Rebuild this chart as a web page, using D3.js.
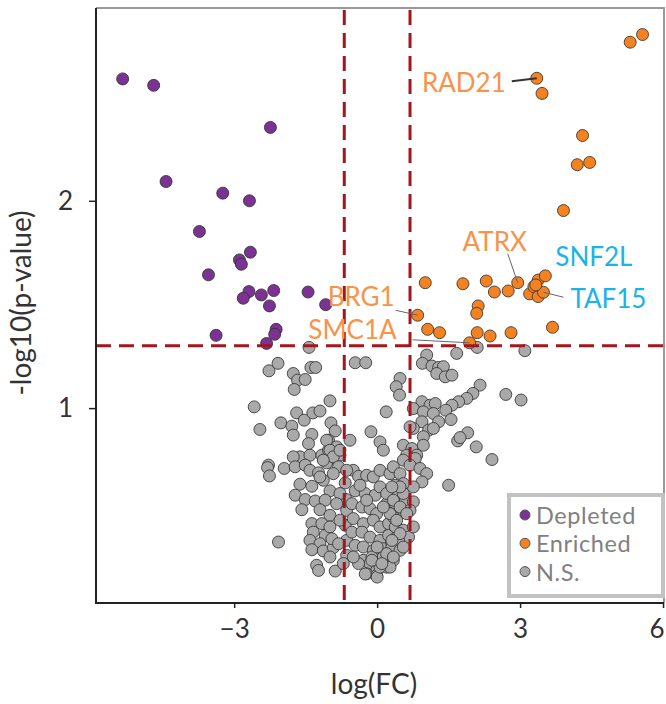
<!DOCTYPE html>
<html>
<head>
<meta charset="utf-8">
<script src="https://cdn.jsdelivr.net/npm/d3@7"></script>
<style>
  body { margin: 0; background: #fff; }
  svg { display: block; }
</style>
</head>
<body>
<svg id="chart"></svg>
<script>
// values: [log(FC), -log10(p)]
const depleted = [
  [-5.34, 2.588], [-4.69, 2.557], [-2.24, 2.354], [-4.43, 2.093], [-3.24, 2.037],
  [-2.68, 2.000], [-3.73, 1.852], [-2.66, 1.752], [-2.89, 1.715], [-2.85, 1.694],
  [-3.54, 1.643], [-2.69, 1.562], [-2.81, 1.530], [-2.43, 1.546], [-2.17, 1.567],
  [-2.26, 1.493], [-1.45, 1.560], [-1.08, 1.499], [-3.38, 1.351], [-2.12, 1.380],
  [-2.15, 1.356], [-2.32, 1.312]
];

const enriched = [
  [5.31, 2.765], [5.57, 2.802], [3.35, 2.591], [3.46, 2.518], [4.31, 2.315],
  [4.20, 2.174], [4.46, 2.185], [3.91, 1.953], [1.01, 1.605], [1.80, 1.600],
  [2.29, 1.613], [2.46, 1.560], [2.75, 1.565], [2.95, 1.605], [3.20, 1.551],
  [3.29, 1.586], [3.38, 1.618], [3.53, 1.638], [3.38, 1.538], [3.49, 1.559],
  [3.33, 1.594], [2.12, 1.493], [2.09, 1.457], [0.85, 1.448], [1.06, 1.380],
  [1.31, 1.364], [2.10, 1.364], [2.37, 1.348], [2.81, 1.364], [3.68, 1.390],
  [1.94, 1.315]
];

const notSignificant = [
  [-1.43, 1.293], [-2.27, 1.180], [-2.08, 1.216], [-1.76, 1.167], [-1.67, 1.135],
  [-1.51, 1.138], [-1.74, 1.090], [-1.39, 1.196], [-1.29, 1.196], [-0.46, 1.219],
  [-0.24, 1.219], [-2.58, 1.006], [-2.46, 0.897], [-2.02, 0.929], [-1.79, 0.913],
  [-1.69, 0.977], [-1.53, 0.942], [-1.35, 0.977], [-1.20, 0.986], [-0.99, 1.035],
  [-0.97, 0.929], [-0.88, 0.890], [-0.57, 0.845], [-1.37, 0.873], [-1.76, 0.870],
  [0.19, 0.982], [-0.13, 0.886], [0.06, 0.837], [0.13, 0.797], [-1.02, 0.845],
  [-0.85, 0.813], [-1.44, 0.829], [-1.62, 0.765], [-1.41, 0.773], [-1.16, 0.773],
  [-0.92, 0.757], [-1.02, 0.797], [-0.78, 0.773], [-1.76, 0.765], [-2.28, 0.725],
  [1.67, 1.264], [2.10, 1.293], [3.10, 1.277], [1.04, 1.256], [0.95, 1.216],
  [1.15, 1.203], [1.29, 1.196], [1.39, 1.200], [1.25, 1.167], [1.43, 1.151],
  [1.57, 1.159], [0.48, 1.143], [0.40, 1.103], [0.47, 1.063], [2.16, 1.111],
  [2.01, 1.071], [1.88, 1.047], [1.71, 1.031], [1.57, 1.014], [1.44, 0.990],
  [1.55, 0.945], [2.70, 1.066], [3.02, 1.039], [0.94, 1.031], [1.11, 1.014],
  [1.22, 1.022], [0.76, 0.998], [0.97, 0.982], [1.18, 0.974], [1.29, 0.934],
  [0.94, 0.934], [0.76, 0.902], [1.08, 0.894], [1.18, 0.902], [0.97, 0.862],
  [0.69, 0.910], [1.90, 0.881], [1.69, 0.842], [1.74, 0.858], [2.08, 0.813],
  [2.41, 0.752], [0.55, 0.821], [0.73, 0.805], [0.83, 0.773], [0.62, 0.773],
  [0.80, 0.757], [0.55, 0.749], [0.97, 0.821],
  [-2.30, 0.713], [-2.26, 0.673], [-1.95, 0.709], [-1.72, 0.717], [-1.51, 0.725],
  [-1.41, 0.700], [-1.23, 0.688], [-1.06, 0.736], [-1.62, 0.633], [-1.37, 0.623],
  [-1.13, 0.652], [-0.99, 0.601], [-1.72, 0.580], [-1.51, 0.559], [-1.30, 0.552],
  [-1.09, 0.556], [-1.58, 0.510], [-1.20, 0.510], [-0.99, 0.483], [-1.37, 0.443],
  [-1.16, 0.443], [-1.34, 0.402], [-1.09, 0.386], [-0.99, 0.427], [-1.41, 0.362],
  [-1.20, 0.346], [-1.37, 0.317], [-1.13, 0.311], [-0.92, 0.327], [-2.07, 0.354],
  [-1.27, 0.242], [-1.23, 0.217], [-0.88, 0.214], [-0.95, 0.370], [-0.99, 0.282],
  [-0.67, 0.639], [-0.65, 0.559], [-0.64, 0.507], [-0.67, 0.435], [-0.64, 0.362],
  [-0.64, 0.290], [-0.50, 0.700], [-0.39, 0.671], [-0.22, 0.676], [-0.08, 0.668],
  [0.06, 0.700], [0.27, 0.684], [-0.46, 0.601], [-0.25, 0.588], [-0.04, 0.580],
  [-0.53, 0.539], [-0.32, 0.523], [-0.15, 0.515], [-0.01, 0.491], [0.20, 0.539],
  [0.34, 0.588], [-0.50, 0.467], [-0.29, 0.443], [-0.08, 0.459], [0.06, 0.427],
  [0.24, 0.443], [0.38, 0.475], [-0.53, 0.402], [-0.32, 0.402], [-0.15, 0.378],
  [0.06, 0.362], [0.24, 0.386], [0.41, 0.378], [-0.46, 0.338], [-0.29, 0.330],
  [-0.08, 0.314], [0.13, 0.322], [0.31, 0.298], [-0.29, 0.266], [-0.15, 0.250],
  [-0.01, 0.217], [-0.22, 0.201], [-0.01, 0.193], [0.20, 0.233], [0.06, 0.620],
  [0.27, 0.596], [0.41, 0.620], [-0.78, 0.588], [-0.85, 0.539], [-0.78, 0.459],
  [-0.81, 0.346], [-0.71, 0.250], [-0.39, 0.250], [-0.50, 0.282], [-0.11, 0.282],
  [0.13, 0.282], [0.31, 0.346], [0.38, 0.539], [0.41, 0.427], [-0.22, 0.556],
  [-0.36, 0.628],
  [1.50, 0.628], [0.34, 0.717], [0.48, 0.684], [0.69, 0.725], [0.90, 0.709],
  [1.04, 0.684], [0.94, 0.644], [0.76, 0.620], [0.55, 0.636], [0.38, 0.628],
  [0.41, 0.572], [0.59, 0.556], [0.76, 0.548], [0.69, 0.507], [0.48, 0.507],
  [0.34, 0.475], [0.38, 0.427], [0.55, 0.411], [0.66, 0.378], [0.45, 0.362],
  [0.31, 0.330], [0.48, 0.314], [0.34, 0.266], [0.27, 0.233],
  [0.00, 0.185], [-0.25, 0.200], [0.06, 0.233], [0.20, 0.588], [0.34, 0.556],
  [0.48, 0.523], [0.27, 0.491], [0.41, 0.459], [0.55, 0.588], [0.62, 0.491],
  [0.13, 0.523], [0.48, 0.395], [0.31, 0.362], [0.20, 0.298], [0.00, 0.330],
  [-0.11, 0.266], [0.10, 0.250], [0.34, 0.282], [0.55, 0.330], [0.48, 0.620],
  [0.31, 0.620], [0.76, 0.427], [-1.06, 0.845], [-0.99, 0.797], [-0.92, 0.765],
  [-1.13, 0.749], [-0.78, 0.797], [-0.81, 0.717], [-0.64, 0.700], [-0.92, 0.684],
  [-1.20, 0.668]
];

// labelled genes: point, label offset from it, leader line start
const genes = [
  { name: "RAD21", x: 3.35, y: 2.591, color: "#f7934a", anchor: "end",    tx: -31, ty: 14,  lx: -25, ly: 3 },
  { name: "ATRX",  x: 2.95, y: 1.605, color: "#f7934a", anchor: "middle", tx: -23, ty: -32, lx: -10, ly: -29 },
  { name: "SNF2L", x: 3.53, y: 1.638, color: "#1cb3e8", anchor: "start",  tx: 10,  ty: -10, lx: null },
  { name: "TAF15", x: 3.49, y: 1.559, color: "#1cb3e8", anchor: "start",  tx: 27,  ty: 16,  lx: 20, ly: 5 },
  { name: "BRG1",  x: 0.85, y: 1.448, color: "#f7934a", anchor: "end",    tx: -23, ty: -9,  lx: -22, ly: -5 },
  { name: "SMC1A", x: 1.94, y: 1.315, color: "#f7934a", anchor: "end",    tx: -73, ty: -4,  lx: -57, ly: -3 }
];

const xTicks = [-3, 0, 3, 6];
const yTicks = [1, 2];
const pThreshold = 1.301;
const fcThreshold = 0.69;

const legendItems = [
  { label: "Depleted", color: "#7b3294" },
  { label: "Enriched", color: "#f58220" },
  { label: "N.S.", color: "#a9a9a9" }
];

const width = 666, height = 704;
const margin = { top: 8, right: 2, bottom: 101, left: 96 };
const font = "Lato, 'Open Sans', sans-serif";

const svg = d3.select("#chart").attr("width", width).attr("height", height);

const x = d3.scaleLinear([-5.9, 6.02], [margin.left, width - margin.right]);
const y = d3.scaleLinear([0.06, 2.93], [height - margin.bottom, margin.top]);

// frame: top and right in light grey
svg.append("path")
  .attr("d", `M${margin.left},${margin.top}H${width - margin.right}V${height - margin.bottom}`)
  .attr("fill", "none")
  .attr("stroke", "#999")
  .attr("stroke-width", 2);

// points
const dots = svg.append("g");
const drawDots = (data, fill) => {
  dots.append("g")
    .selectAll("circle")
    .data(data)
    .join("circle")
    .attr("cx", d => x(d[0]))
    .attr("cy", d => y(d[1]))
    .attr("r", 6)
    .attr("fill", fill)
    .attr("stroke", "#333")
    .attr("stroke-opacity", 0.85)
    .attr("stroke-width", 1);
};
drawDots(notSignificant, "#a9a9a9");

// threshold lines
const thr = svg.append("g")
  .attr("stroke", "#a3161d")
  .attr("stroke-width", 3)
  .attr("stroke-dasharray", "15,8");
thr.append("line")
  .attr("x1", margin.left).attr("x2", width - margin.right)
  .attr("y1", y(pThreshold)).attr("y2", y(pThreshold));
[-fcThreshold, fcThreshold].forEach(v => {
  thr.append("line")
    .attr("x1", x(v)).attr("x2", x(v))
    .attr("y1", margin.top + 2).attr("y2", height - margin.bottom);
});

drawDots(depleted, "#7b3294");
drawDots(enriched, "#f58220");

// gene labels
const ann = svg.append("g").attr("font-family", font).attr("font-size", 26);
genes.forEach(g => {
  const px = x(g.x), py = y(g.y);
  if (g.lx !== null) {
    ann.append("line")
      .attr("x1", px + g.lx).attr("y1", py + g.ly)
      .attr("x2", px).attr("y2", py)
      .attr("stroke", g.name === "RAD21" ? "#333" : "#666")
      .attr("stroke-width", g.name === "RAD21" ? 2 : 1);
  }
  ann.append("text")
    .attr("x", px + g.tx)
    .attr("y", py + g.ty)
    .attr("text-anchor", g.anchor)
    .attr("fill", g.color)
    .text(g.name);
});

// axes
const xAxis = svg.append("g")
  .attr("transform", `translate(0,${height - margin.bottom})`)
  .call(d3.axisBottom(x).tickValues(xTicks).tickSizeInner(5).tickSizeOuter(0).tickPadding(12));
const yAxis = svg.append("g")
  .attr("transform", `translate(${margin.left},0)`)
  .call(d3.axisLeft(y).tickValues(yTicks).tickFormat(d3.format("d"))
    .tickSizeInner(7).tickSizeOuter(0).tickPadding(16));

[xAxis, yAxis].forEach(a => {
  a.select(".domain").attr("stroke", "#222").attr("stroke-width", 2);
  a.selectAll(".tick line").attr("stroke", "#222").attr("stroke-width", 1.5);
  a.selectAll("text")
    .attr("font-family", font)
    .attr("font-size", 26)
    .attr("fill", "#333");
});
// last x label kept inside the picture
xAxis.selectAll(".tick").filter(d => d === 6).select("text")
  .attr("text-anchor", "end").attr("x", 1);
// extend domain over the corner
xAxis.select(".domain").attr("d", `M${margin.left - 1},0H${width - margin.right}`);
yAxis.select(".domain").attr("d", `M0,${margin.top}V${height - margin.bottom + 1}`);

svg.append("text")
  .attr("x", 374).attr("y", 694)
  .attr("text-anchor", "middle")
  .attr("font-family", font).attr("font-size", 28).attr("fill", "#333")
  .text("log(FC)");

svg.append("text")
  .attr("transform", `translate(31,303) rotate(-90)`)
  .attr("text-anchor", "middle")
  .attr("font-family", font).attr("font-size", 28).attr("fill", "#333")
  .text("-log10(p-value)");

// legend
const lg = svg.append("g").attr("transform", "translate(509,495)");
lg.append("rect")
  .attr("width", 154).attr("height", 101)
  .attr("fill", "#fff")
  .attr("stroke", "#c2c2c2")
  .attr("stroke-width", 4);
lg.selectAll("g.item")
  .data(legendItems)
  .join("g")
  .attr("class", "item")
  .attr("transform", (d, i) => `translate(16,${20 + i * 28.3})`)
  .each(function (d) {
    const it = d3.select(this);
    it.append("circle").attr("r", 5).attr("fill", d.color)
      .attr("stroke", "#555").attr("stroke-width", 1);
    it.append("text")
      .attr("x", 11).attr("y", 9)
      .attr("font-family", font).attr("font-size", 23.5).attr("fill", "#808080")
      .attr("letter-spacing", 0.6)
      .text(d.label);
  });
</script>
</body>
</html>
